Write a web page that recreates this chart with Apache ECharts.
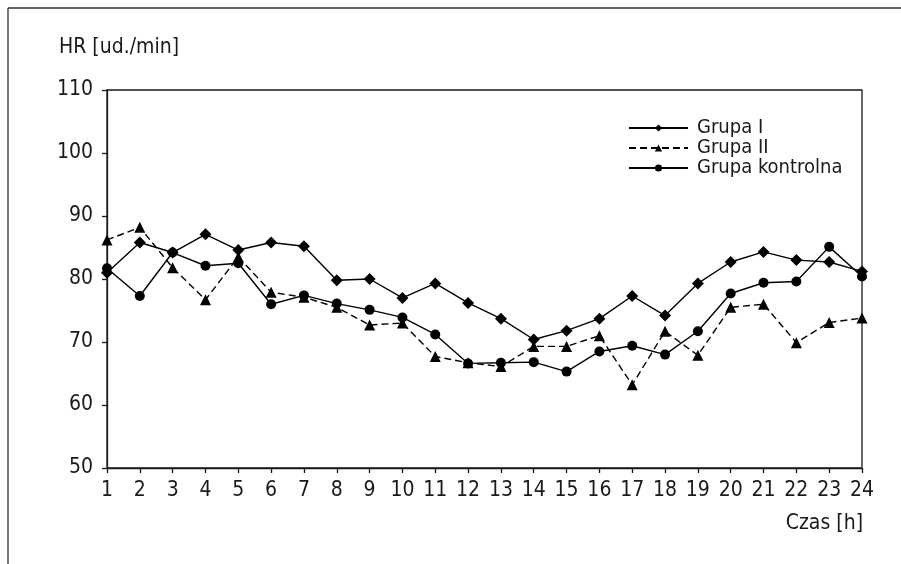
<!DOCTYPE html>
<html>
<head>
<meta charset="utf-8">
<script src="https://cdn.jsdelivr.net/npm/echarts@6/dist/echarts.min.js"></script>
<style>html,body{margin:0;padding:0;background:#fff}#c{width:901px;height:564px}</style>
</head>
<body>
<div id="c"></div>
<script>
var hours = ['1','2','3','4','5','6','7','8','9','10','11','12','13','14','15','16','17','18','19','20','21','22','23','24'];
var grupaI = [81.0, 85.8, 84.2, 87.1, 84.6, 85.8, 85.2, 79.8, 80.0, 77.0, 79.3, 76.2, 73.7, 70.4, 71.8, 73.7, 77.3, 74.2, 79.3, 82.7, 84.3, 83.0, 82.7, 81.2];
var grupaII = [86.2, 88.2, 81.8, 76.7, 83.5, 77.9, 77.1, 75.5, 72.7, 73.0, 67.7, 66.7, 66.1, 69.3, 69.3, 71.0, 63.2, 71.7, 67.9, 75.5, 76.0, 69.9, 73.1, 73.8];
var kontrolna = [81.7, 77.3, 84.2, 82.1, 82.5, 76.0, 77.4, 76.1, 75.1, 73.9, 71.2, 66.6, 66.7, 66.8, 65.3, 68.5, 69.4, 68.0, 71.7, 77.7, 79.4, 79.6, 85.1, 80.4];
var seriesNames = ['Grupa I', 'Grupa II', 'Grupa kontrolna'];
var yTitle = 'HR [ud./min]';
var xTitle = 'Czas [h]';

var FONT = '"Liberation Sans Narrow", "DejaVu Sans Condensed", "Liberation Sans", sans-serif';
var INK = '#1a1a1a';
var chart = echarts.init(document.getElementById('c'), null, {renderer: 'canvas'});
chart.setOption({
  animation: false,
  backgroundColor: '#fff',
  textStyle: {fontFamily: FONT, color: INK},
  grid: {left: 107, right: 39, top: 90, bottom: 96, show: true, borderColor: INK, borderWidth: 1.3},
  legend: {
    data: seriesNames,
    orient: 'vertical',
    left: 623, top: 113,
    itemWidth: 59, itemHeight: 9, itemGap: 0,
    textStyle: {fontFamily: FONT, fontSize: 20, color: INK, padding: [0,0,0,4]}
  },
  xAxis: {
    type: 'category', data: hours, boundaryGap: false,
    axisLine: {lineStyle: {color: INK, width: 1.3}},
    axisTick: {show: true, inside: false, length: 5, interval: 0, alignWithLabel: true, lineStyle: {color: INK, width: 1.3}},
    axisLabel: {interval: 0, margin: 12, fontSize: 21, color: INK, fontFamily: FONT},
    splitLine: {show: false}
  },
  yAxis: {
    type: 'value', min: 50, max: 110, interval: 10,
    axisLine: {show: true, lineStyle: {color: INK, width: 1.3}},
    axisTick: {show: true, inside: false, length: 5, lineStyle: {color: INK, width: 1.3}},
    axisLabel: {margin: 14, fontSize: 21, color: INK, fontFamily: FONT},
    splitLine: {show: false}
  },
  graphic: [
    {type: 'line', shape: {x1: 8, y1: 8, x2: 901, y2: 8}, style: {stroke: '#333', lineWidth: 1.3}},
    {type: 'line', shape: {x1: 8, y1: 8, x2: 8, y2: 564}, style: {stroke: '#333', lineWidth: 1.3}},
    {type: 'text', left: 59, top: 37, style: {text: yTitle, fontFamily: FONT, fontSize: 21, fill: INK}},
    {type: 'text', right: 38, top: 513, style: {text: xTitle, fontFamily: FONT, fontSize: 21, fill: INK}}
  ],
  series: [
    {name: seriesNames[0], type: 'line', data: grupaI, symbol: 'diamond', symbolSize: 12,
      itemStyle: {color: '#000'}, lineStyle: {color: '#000', width: 1.4}},
    {name: seriesNames[1], type: 'line', data: grupaII, symbol: 'triangle', symbolSize: 11,
      itemStyle: {color: '#000'}, lineStyle: {color: '#000', width: 1.4, type: [7, 4]}},
    {name: seriesNames[2], type: 'line', data: kontrolna, symbol: 'circle', symbolSize: 10,
      itemStyle: {color: '#000'}, lineStyle: {color: '#000', width: 1.4}}
  ]
});
</script>
</body>
</html>
